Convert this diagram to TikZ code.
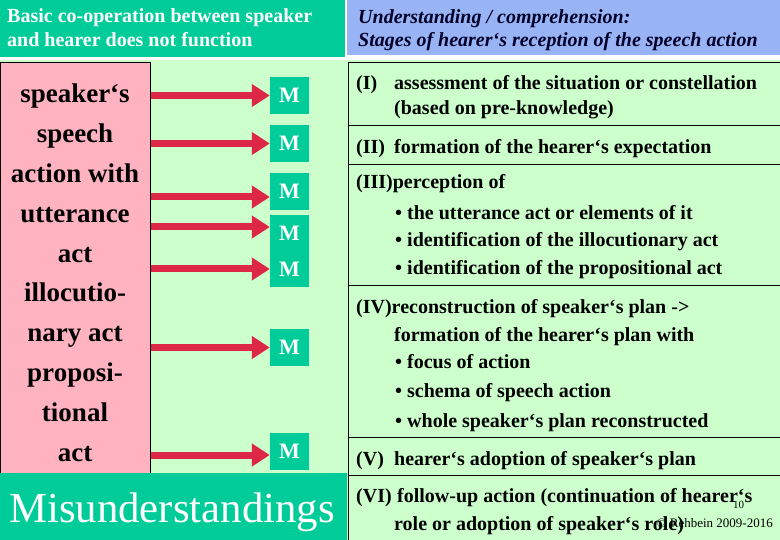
\documentclass[tikz,border=0pt]{standalone}
\usepackage{fontspec}
\setmainfont{Liberation Serif}
\usetikzlibrary{arrows.meta}
\definecolor{teal1}{RGB}{0,204,153}
\definecolor{bggreen}{RGB}{204,255,204}
\definecolor{pinkbg}{RGB}{255,179,192}
\definecolor{hdrblue}{RGB}{153,180,245}
\definecolor{arrred}{RGB}{220,40,70}
\definecolor{navy}{RGB}{0,0,40}
\tikzset{
  fs/.style={font=\fontsize{#1}{#1}\selectfont},
  hdrtxtL/.style={anchor=base west, inner sep=0, text=white, font=\bfseries\fontsize{20}{24}\selectfont},
  hdrtxtR/.style={anchor=base west, inner sep=0, text=navy, font=\bfseries\itshape\fontsize{20}{24}\selectfont},
  stg/.style={anchor=base west, inner sep=0, font=\bfseries\fontsize{20}{24}\selectfont},
  mbox/.style={fill=teal1, minimum width=39pt, minimum height=36.5pt, inner sep=0, text=white, font=\bfseries\fontsize{22}{22}\selectfont},
  arr/.style={draw=arrred, line width=7pt, -{Triangle[length=18pt,width=22pt]}},
  rule/.style={draw=black, line width=1pt},
}
\begin{document}
\begin{tikzpicture}[x=1pt,y=-1pt]
\useasboundingbox (0,0) rectangle (780,540);
\fill[white] (0,0) rectangle (780,540);
\fill[bggreen] (0,60) rectangle (780,540);
% headers
\node[fill=teal1, anchor=north west, minimum width=345pt, minimum height=57pt, inner sep=0] (hl) at (0,0) {};
\node[fill=hdrblue, anchor=north west, minimum width=433pt, minimum height=55pt, inner sep=0] (hr) at (347,0) {};
\node[hdrtxtL] (hl1) at (7,23) {Basic co-operation between speaker};
\node[hdrtxtL] (hl2) at (7,47) {and hearer does not function};
\node[hdrtxtR] (hr1) at (358,24) {Understanding / comprehension:};
\node[hdrtxtR] (hr2) at (358,47) {Stages of hearer‘s reception of the speech action};
% pink box
\node[fill=pinkbg, draw=black, line width=1pt, anchor=north west, minimum width=150pt, minimum height=411pt, inner sep=0] (spk) at (0,62) {};
\node[anchor=north, inner sep=0, align=center, font=\bfseries\fontsize{27}{39.8}\selectfont] (spktxt) at (75,84)
 {speaker‘s\\speech\\action with\\utterance\\act\\illocutio-\\nary act\\proposi-\\tional\\act};
% M boxes
\node[mbox] (m1) at (289.5,95.5) {M};
\node[mbox] (m2) at (289.5,143.5) {M};
\node[mbox] (m3) at (289.5,191.5) {M};
\node[mbox] (m4) at (289.5,233) {M};
\node[mbox] (m5) at (289.5,269) {M};
\node[mbox] (m6) at (289.5,347.5) {M};
\node[mbox] (m7) at (289.5,451.5) {M};
\coordinate (t3) at ([yshift=-5.5pt]m3.west);
\coordinate (t4) at ([yshift=6pt]m4.west);
\coordinate (t7) at ([yshift=-3.5pt]m7.west);
\draw[arr] (spk.east |- m1.west) -- (m1.west);
\draw[arr] (spk.east |- m2.west) -- (m2.west);
\draw[arr] (spk.east |- t3) -- (t3);
\draw[arr] (spk.east |- t4) -- (t4);
\draw[arr] (spk.east |- m5.west) -- (m5.west);
\draw[arr] (spk.east |- m6.west) -- (m6.west);
\draw[arr] (spk.east |- t7) -- (t7);
% Misunderstandings
\node[fill=teal1, anchor=north west, minimum width=347pt, minimum height=67pt, inner sep=0] (mis) at (0,473) {};
\node[anchor=base west, inner sep=0, text=white, font=\fontsize{42.8}{43}\selectfont] (mistxt) at (9,522) {Misunderstandings};
% right panel rules
\draw[rule] (348,540) -- (348,63) -- (780,63);
\foreach \yy in {126,165,286,437,475} \draw[rule] (348,\yy) -- (780,\yy);
% stages
\node[stg] (s1) at (356,90) {(I)};
\node[stg] (s1a) at (394,90) {assessment of the situation or constellation};
\node[stg] (s1b) at (394,115) {(based on pre-knowledge)};
\node[stg] (s2) at (356,154) {(II)};
\node[stg] (s2a) at (394,154) {formation of the hearer‘s expectation};
\node[stg] (s3) at (356,189) {(III)perception of};
\node[stg] (s3a) at (395,220) {• the utterance act or elements of it};
\node[stg] (s3b) at (395,247) {• identification of the illocutionary act};
\node[stg] (s3c) at (395,275) {• identification of the propositional act};
\node[stg] (s4) at (356,314) {(IV)reconstruction of speaker‘s plan ->};
\node[stg] (s4a) at (394,342) {formation of the hearer‘s plan with};
\node[stg] (s4b) at (395,369) {• focus of action};
\node[stg] (s4c) at (395,398) {• schema of speech action};
\node[stg] (s4d) at (395,427) {• whole speaker‘s plan reconstructed};
\node[stg] (s5) at (356,465) {(V)};
\node[stg] (s5a) at (394,465) {hearer‘s adoption of speaker‘s plan};
\node[stg] (s6) at (356,502) {(VI)};
\node[stg] (s6a) at (397,502) {follow-up action (continuation of hearer‘s};
\node[stg] (s6b) at (394,530) {role or adoption of speaker‘s role)};
\node[anchor=base west, inner sep=0, fs=11] (pg) at (733,508) {10};
\node[anchor=base east, inner sep=0, fs=13] (copy) at (773,527) {© Rehbein 2009-2016};
\end{tikzpicture}
\end{document}
